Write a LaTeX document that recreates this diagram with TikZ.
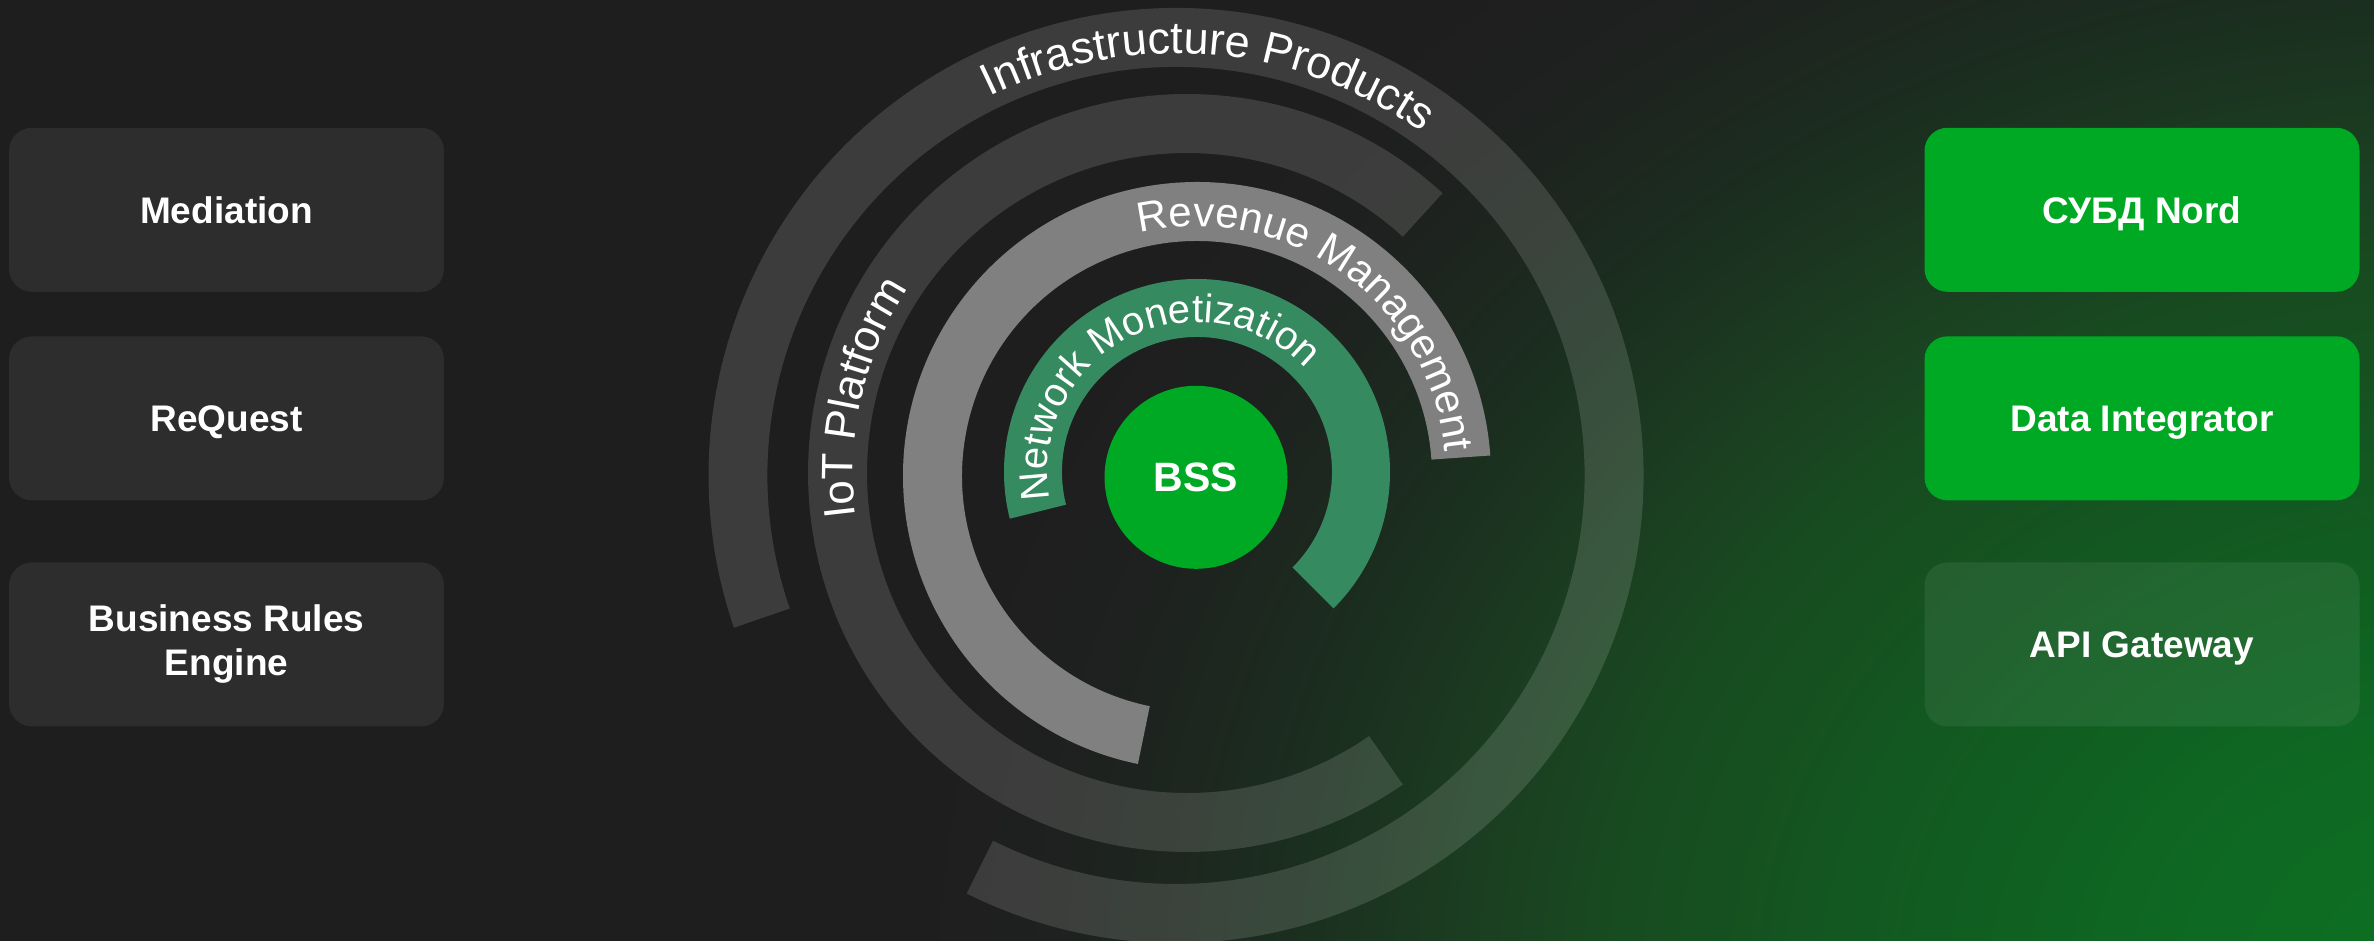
\documentclass[tikz,border=0pt]{standalone}
\usepackage{fontspec}
\setmainfont{Liberation Sans}
\usetikzlibrary{calc,decorations.text}
\definecolor{bgc}{RGB}{30,30,30}
\definecolor{gA}{RGB}{12,114,34}
\definecolor{gB}{RGB}{13,110,34}
\definecolor{gC}{RGB}{14,104,34}
\definecolor{gD}{RGB}{17,92,33}
\definecolor{gE}{RGB}{24,74,32}
\definecolor{gF}{RGB}{27,63,33}
\definecolor{gG}{RGB}{27,46,31}
\definecolor{gH}{RGB}{29,38,31}
\definecolor{gI}{RGB}{30,33,31}
\definecolor{boxgray}{RGB}{45,45,45}
\definecolor{brandgreen}{RGB}{0,169,35}
\definecolor{netgreen}{RGB}{54,138,96}
\definecolor{revgray}{RGB}{128,128,128}
\pgfdeclareradialshading{glow}{\pgfpoint{0bp}{0bp}}{color(0bp)=(gA); color(1.75bp)=(gB); color(4.7bp)=(gC); color(8.3bp)=(gD); color(13.05bp)=(gE); color(14.75bp)=(gF); color(17.75bp)=(gG); color(19.6bp)=(gH); color(21.1bp)=(gI); color(23.2bp)=(bgc); color(25bp)=(bgc); color(50bp)=(bgc)}
\newcommand\ringlabelfont[1]{\fontsize{#1}{#1}\selectfont}
\tikzset{
  leftbox/.style={draw=none, fill=boxgray, rounded corners=23pt, minimum width=435pt, minimum height=164pt, inner sep=0pt, text=white, font=\fontsize{37}{44}\selectfont\bfseries},
  greenbox/.style={leftbox, fill=brandgreen},
  ghostbox/.style={leftbox, fill=white, fill opacity=0.07, text opacity=1},
  oneline/.style={text depth=0pt},
  ringfill/.style={fill=white, fill opacity=0.133},
  revfill/.style={fill=revgray},
  netfill/.style={fill=netgreen}
}
\begin{document}
\begin{tikzpicture}[x=1pt,y=1pt]
\useasboundingbox (0,0) rectangle (2374,940);
% background
\fill[bgc] (-10,-10) rectangle (2384,950);
\begin{scope}
  \clip (-10,-10) rectangle (2384,950);
  \shade[shading=glow] (2474,-50) ellipse [x radius=1680, y radius=1400];
\end{scope}
% ring centres
\coordinate (cI) at (1176,464.5);
\coordinate (cT) at (1187,467);
\coordinate (cR) at (1197,464);
\coordinate (cN) at (1197,468);
% Infrastructure ring
\fill[ringfill] ($(cI)+(-116.6:467.5)$) arc[start angle=-116.6, end angle=199, radius=467.5]
  -- ($(cI)+(199:408.5)$) arc[start angle=199, end angle=-116.6, radius=408.5] -- cycle;
% IoT ring
\fill[ringfill] ($(cT)+(47.6:379)$) arc[start angle=47.6, end angle=304.7, radius=379]
  -- ($(cT)+(304.7:320)$) arc[start angle=304.7, end angle=47.6, radius=320] -- cycle;
% Revenue ring
\fill[revfill] ($(cR)+(4:294)$) arc[start angle=4, end angle=258.4, radius=294]
  -- ($(cR)+(258.4:235)$) arc[start angle=258.4, end angle=4, radius=235] -- cycle;
% Network Monetization ring
\fill[netfill] ($(cN)+(-45:193)$) arc[start angle=-45, end angle=194, radius=193]
  -- ($(cN)+(194:135)$) arc[start angle=194, end angle=-45, radius=135] -- cycle;
% ring labels
\path[decorate, decoration={text along path, text={|\ringlabelfont{45}|Infrastructure Products}, text align=center, text color=white}]
  ($(cI)+(155.3:422)$) arc[start angle=155.3, end angle=15.3, radius=422];
\path[decorate, decoration={text along path, text={|\ringlabelfont{44}|IoT Platform}, text align=center, text color=white}]
  ($(cT)+(227:334)$) arc[start angle=227, end angle=107, radius=334];
\path[decorate, decoration={text along path, text={|\ringlabelfont{42}|Revenue Management}, text align=center, text color=white}]
  ($(cR)+(124.4:249.5)$) arc[start angle=124.4, end angle=-15.6, radius=249.5];
\path[decorate, decoration={text along path, text={|\ringlabelfont{40}|Network Monetization}, text align=center, text color=white}]
  ($(cN)+(217:149.7)$) arc[start angle=217, end angle=17, radius=149.7];
% centre
\node[circle, fill=brandgreen, minimum size=183pt, inner sep=0pt, text=white, font=\fontsize{41}{41}\selectfont\bfseries, text depth=0pt] (bss) at (1196,462.7) {BSS};
% left boxes
\node[leftbox, oneline] (med) at (226.5,730.2) {Mediation};
\node[leftbox, oneline] (req) at (226.5,521.65) {ReQuest};
\node[leftbox, align=center] (bre) at (226.5,295.55) {Business Rules\\Engine};
% right boxes
\node[greenbox, oneline] (subd) at (2142,730.2) {СУБД Nord};
\node[greenbox, oneline] (dint) at (2142,521.65) {Data Integrator};
\node[ghostbox, oneline] (api) at (2142,295.55) {API Gateway};
\end{tikzpicture}
\end{document}
